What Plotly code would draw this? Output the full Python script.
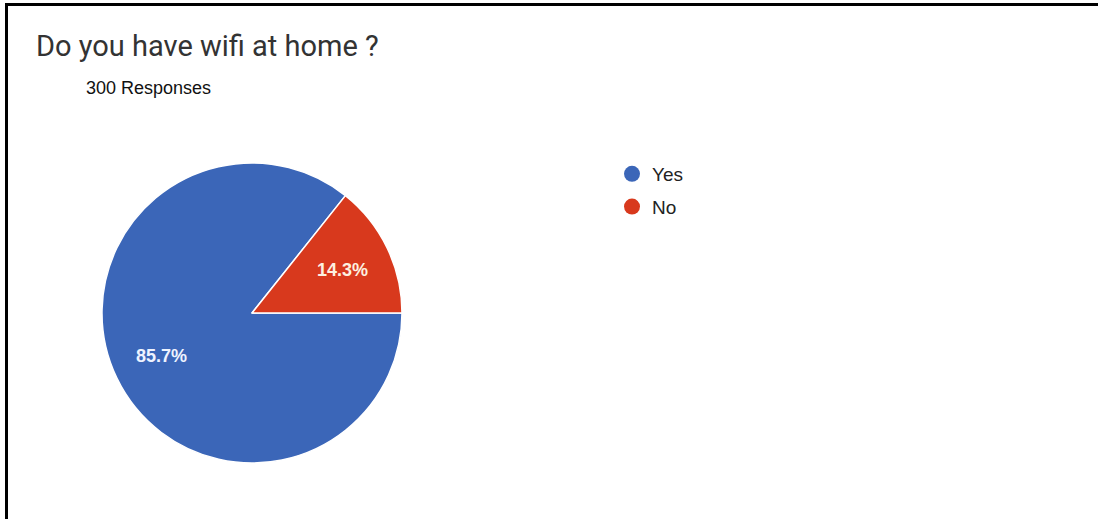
import math
import plotly.graph_objects as go

# Survey answers
labels = ["Yes", "No"]
shares = [85.7, 14.3]
slice_colors = ["#3b66b8", "#d8391d"]
label_colors = ["#eef3ff", "#fdf0e0"]

title_text = "Do you have wifi at home ?"
subtitle_text = "300 Responses"

W, H = 1098, 519


def px_x(x):
    return x / W


def px_y(y):
    return 1 - y / H


# Pie placement (pixels): centre and radius
PIE_CX, PIE_CY, PIE_R = 252, 313, 150
START_DEG = 90  # first slice starts at 3 o'clock, drawn clockwise

fig = go.Figure()

fig.add_trace(go.Pie(
    labels=labels,
    values=shares,
    sort=False,
    direction="clockwise",
    rotation=START_DEG,
    marker=dict(colors=slice_colors, line=dict(color="white", width=1.5)),
    textinfo="none",
    showlegend=False,
    domain=dict(x=[px_x(PIE_CX - PIE_R), px_x(PIE_CX + PIE_R)],
                y=[px_y(PIE_CY + PIE_R), px_y(PIE_CY - PIE_R)]),
    hoverinfo="label+percent",
))

# Legend entries with round markers
for name, col in zip(labels, slice_colors):
    fig.add_trace(go.Scatter(
        x=[None], y=[None], mode="markers", name=name,
        legendgroup=name,
        marker=dict(symbol="circle", size=16, color=col),
    ))

# Percentage labels placed at two thirds of the radius, at each slice's mid-angle
total = sum(shares)
annotations = []
cum = 0.0
for share, col in zip(shares, label_colors):
    mid = math.radians(START_DEG + 360 * (cum + share / 2) / total)
    cum += share
    lx = PIE_CX + PIE_R * 2 / 3 * math.sin(mid)
    ly = PIE_CY - PIE_R * 2 / 3 * math.cos(mid)
    annotations.append(dict(
        text=f"<b>{share / total * 100:.1f}%</b>", x=px_x(lx), y=px_y(ly),
        xref="paper", yref="paper", xanchor="center", yanchor="middle",
        showarrow=False,
        font=dict(family="Liberation Sans, Arial, sans-serif", size=18, color=col),
    ))

annotations += [
    dict(text=title_text, x=px_x(34), y=px_y(46), xref="paper", yref="paper",
         xanchor="left", yanchor="middle", showarrow=False,
         font=dict(family="Roboto, sans-serif", size=29, color="#333333")),
    dict(text=subtitle_text, x=px_x(84), y=px_y(88), xref="paper", yref="paper",
         xanchor="left", yanchor="middle", showarrow=False,
         font=dict(family="Liberation Sans, Arial, sans-serif", size=18,
                   color="#111111")),
]

fig.update_layout(
    width=W, height=H,
    margin=dict(l=0, r=0, t=0, b=0),
    paper_bgcolor="white",
    plot_bgcolor="white",
    xaxis=dict(visible=False),
    yaxis=dict(visible=False),
    showlegend=True,
    legend=dict(
        x=px_x(612), y=px_y(155), xanchor="left", yanchor="top",
        font=dict(family="Liberation Sans, Arial, sans-serif", size=19,
                  color="#222222"),
        tracegroupgap=5,
        bgcolor="rgba(0,0,0,0)",
    ),
    annotations=annotations,
    shapes=[
        dict(type="line", xref="paper", yref="paper",
             x0=px_x(5), x1=1, y0=px_y(4.5), y1=px_y(4.5),
             line=dict(color="black", width=3)),
        dict(type="line", xref="paper", yref="paper",
             x0=px_x(6.5), x1=px_x(6.5), y0=0, y1=px_y(3),
             line=dict(color="black", width=3)),
    ],
)

fig.write_html("out.html")
